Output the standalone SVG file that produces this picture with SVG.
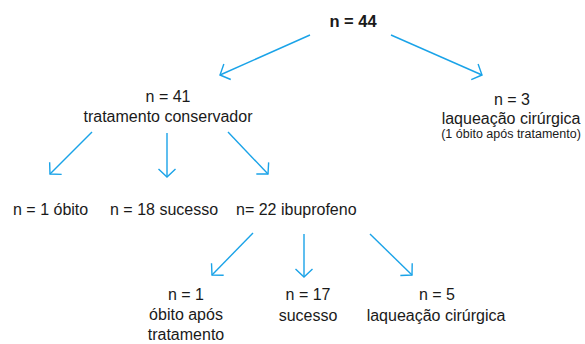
<svg xmlns="http://www.w3.org/2000/svg" width="585" height="344" viewBox="0 0 585 344">
<defs>
<style>
text{font-family:"Liberation Sans",Arial,sans-serif;font-size:16px;fill:#1a1a1a;text-anchor:middle}
.b{font-weight:bold;font-size:16.5px}
.s{font-size:12.5px}
.st{text-anchor:start}
.c line{stroke:#1AA3E8;stroke-width:1.4;fill:none;marker-end:url(#ah)}
</style>
<marker id="ah" markerUnits="userSpaceOnUse" markerWidth="20" markerHeight="20" viewBox="-10 -10 20 20" refX="0" refY="0" orient="auto">
<path d="M-8,-8.5 L0,0 L-8,8.5" fill="none" stroke="#1AA3E8" stroke-width="1.4"/>
</marker>
</defs>
<rect width="585" height="344" fill="#fff"/>
<g id="connectors" class="c">
<line x1="310" y1="35" x2="220" y2="75"/>
<line x1="391" y1="35" x2="482" y2="75"/>
<line x1="92" y1="132" x2="50" y2="174"/>
<line x1="167" y1="133" x2="167" y2="177"/>
<line x1="228" y1="132" x2="268" y2="174"/>
<line x1="253" y1="233" x2="212" y2="275"/>
<line x1="304" y1="234" x2="304" y2="277"/>
<line x1="370" y1="234" x2="412" y2="275"/>
</g>
<g id="n44"><text class="b" x="353" y="27">n = 44</text></g>
<g id="n41"><text x="168" y="102">n = 41</text><text x="168" y="122">tratamento conservador</text></g>
<g id="n3"><text x="512" y="105">n = 3</text><text x="511" y="124">laqueação cirúrgica</text><text class="s" x="511" y="138">(1 óbito após tratamento)</text></g>
<g id="n1"><text class="st" x="13" y="215">n = 1 óbito</text></g>
<g id="n18"><text class="st" x="110" y="215">n = 18 sucesso</text></g>
<g id="n22"><text class="st" x="236" y="215">n= 22 ibuprofeno</text></g>
<g id="n1b"><text x="186" y="300">n = 1</text><text x="186" y="320">óbito após</text><text x="186" y="340">tratamento</text></g>
<g id="n17"><text x="308" y="300">n = 17</text><text x="308" y="321">sucesso</text></g>
<g id="n5"><text x="437" y="300">n = 5</text><text x="436" y="321">laqueação cirúrgica</text></g>
</svg>
